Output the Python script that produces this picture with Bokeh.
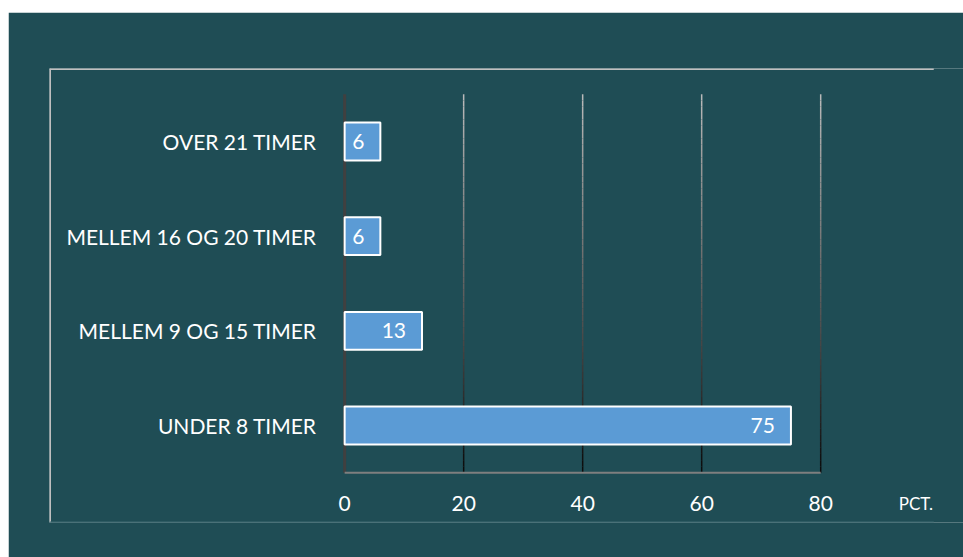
import numpy as np
from bokeh.plotting import figure
from bokeh.core.properties import value
from bokeh.embed import file_html
from bokeh.resources import INLINE

# ---- data ----
categories = ["UNDER 8 TIMER", "MELLEM 9 OG 15 TIMER", "MELLEM 16 OG 20 TIMER", "OVER 21 TIMER"]
values = [75, 13, 6, 6]
x_ticks = [0, 20, 40, 60, 80]
x_tick_labels = ["0", "20", "40", "60", "80"]
unit_label = "PCT."

# ---- style ----
BG = "#1F4D55"
BAR = "#5B9BD5"
FONT = "Lato"
FS = "21px"

X_START, X_END = -49.6, 104.0
BOX_RIGHT = 99.0
Y_START, Y_END = -1.025, 3.771

ys = list(range(len(categories)))
y_lo, y_hi = -0.5, len(categories) - 0.5

p = figure(width=955, height=545, x_range=(X_START, X_END), y_range=(Y_START, Y_END),
           x_axis_type=None, y_axis_type=None,
           output_backend="svg", toolbar_location=None)
p.margin = (12, 0, 0, 8)
p.min_border_left = 41
p.min_border_top = 56
p.min_border_right = 0
p.min_border_bottom = 35
p.background_fill_color = BG
p.border_fill_color = BG
p.outline_line_color = None

# inner frame borders
p.segment(x0=[X_START, X_START], y0=[Y_START, Y_END], x1=[X_START, BOX_RIGHT], y1=[Y_END, Y_END],
          line_color="#BFBFBF", line_width=3)
p.segment(x0=[X_START], y0=[Y_START], x1=[BOX_RIGHT], y1=[Y_START], line_color="#3F6B72", line_width=2)

# gradient gridlines
N = 60
edges = np.linspace(y_hi, y_lo, N + 1)
shade = np.linspace(185, 12, N).astype(int)
gx0, gy0, gx1, gy1, gc = [], [], [], [], []
for t in x_ticks[1:]:
    for k in range(N):
        gx0.append(t); gx1.append(t)
        gy0.append(edges[k]); gy1.append(edges[k + 1])
        s = shade[k]
        gc.append("#%02x%02x%02x" % (s, s, s))
p.segment(x0=gx0, y0=gy0, x1=gx1, y1=gy1, line_color=gc, line_width=1.5)

# axes lines
p.segment(x0=[x_ticks[0]], y0=[y_lo], x1=[x_ticks[0]], y1=[y_hi], line_color="#404040", line_width=3)
p.segment(x0=[x_ticks[0]], y0=[y_lo], x1=[x_ticks[-1]], y1=[y_lo], line_color="#7F7F7F", line_width=2)

# bars
p.hbar(y=ys, left=0, right=values, height=0.4, fill_color=BAR, line_color="white", line_width=2)

# value labels
p.text(x=values, y=ys, text=[str(v) for v in values], text_align="right", text_baseline="middle",
       x_offset=-16, text_color="white", text_font=value(FONT), text_font_size=FS)

# category labels
p.text(x=[0] * len(categories), y=ys, text=categories, text_align="right", text_baseline="middle",
       x_offset=-28, text_color="white", text_font=value(FONT), text_font_size=FS)

# x tick labels
p.text(x=x_ticks, y=[y_lo] * len(x_ticks), text=x_tick_labels, text_align="center", text_baseline="middle",
       y_offset=31, text_color="white", text_font=value(FONT), text_font_size=FS)

# unit label
p.text(x=[x_ticks[-1]], y=[y_lo], text=[unit_label], text_align="left", text_baseline="middle",
       x_offset=78, y_offset=31, text_color="white", text_font=value(FONT), text_font_size="17px")

open("out.html", "w").write(file_html(p, INLINE))
